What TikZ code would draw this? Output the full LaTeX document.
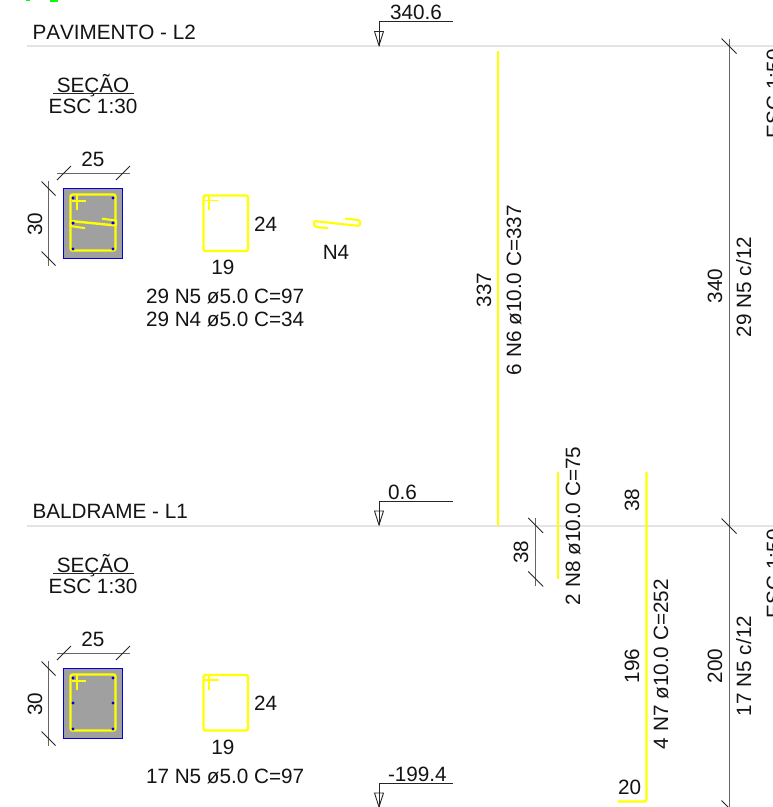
\documentclass[tikz,border=0pt]{standalone}
\usepackage{fontspec}
\setmainfont[Kerning=Off]{Liberation Sans}
\definecolor{steelY}{RGB}{255,255,0}
\definecolor{levelG}{RGB}{228,228,228}
\definecolor{concG}{RGB}{160,160,160}
\tikzset{
  txt/.style={inner sep=0pt,outer sep=0pt,text=black!92,font=\fontsize{20.7}{25}\selectfont},
  lbl/.style={txt,anchor=base west},
  ctr/.style={txt,anchor=base},
  vlbl/.style={txt,anchor=base west,rotate=90},
  vctr/.style={txt,anchor=base,rotate=90},
  level/.style={draw=levelG,line width=1.2pt},
  dimline/.style={draw=black!60,line width=1pt},
  tick/.style={draw=black!85,line width=0.8pt},
  elev/.style={draw=black!85,line width=0.9pt},
  rebar/.style={draw=steelY,line width=2.3pt,line join=round},
  stirrup/.style={draw=steelY,line width=2.4pt,rounded corners=2pt,line join=round},
  conc/.style={draw=blue!85!black,fill=concG,line width=1.1pt},
  bardot/.style={fill=blue!85!black,draw=none},
  underl/.style={draw=black!85,line width=0.9pt},
  pics/vtick/.style={code={\draw[tick] (-7.5,-7.5) -- (7.5,7.5);}},
  pics/elevmark/.style={code={
    \draw[elev] (0,0) -- (74,0);
    \draw[elev] (0,0) -- (0,24);
    \draw[elev] (-4.5,10) -- (4.5,10) -- (0,24) -- cycle;}},
  pics/sectionbox/.style={code={
    \node[ctr] (sec) at (93,92) {SEÇÃO};
    \draw[underl] (53,93) -- (134,93);
    \node[ctr] (esc) at (93,113) {ESC 1:30};
    \node[ctr] (w) at (93,166) {25};
    \node[vctr] (h) at (42,224) {30};
    \draw[dimline] (57,173) -- (130,173);
    \draw[dimline] (48.5,181) -- (48.5,266);
    \draw[tick] (57,180) -- (71,166);
    \draw[tick] (116,180) -- (130,166);
    \draw[tick] (41.5,181.5) -- (55.5,195.5);
    \draw[tick] (41.5,251.5) -- (55.5,265.5);
    \draw[conc] (63.5,188.5) rectangle (122.5,258.5);
    \draw[stirrup] (70.5,194.5) rectangle (115.5,250.5);
    \draw[rebar,line width=2pt] (72,201) -- (86,201);
    \draw[rebar,line width=2pt] (77,195) -- (77,210);
    \foreach \px/\py in {73/198,113/198,73/223,113/223,73/249,113/249}
      \fill[bardot] (\px,\py) circle (1.7);
  }},
  pics/stirrupshape/.style={code={
    \draw[stirrup] (203.5,195.5) rectangle (248,251);
    \draw[rebar,line width=1.5pt] (204,200.7) -- (219,200.7);
    \draw[rebar,line width=1.5pt] (209,196) -- (209,210);
    \node[lbl] (dimA) at (254,231) {24};
    \node[ctr] (dimB) at (223,274.5) {19};
  }},
}
\begin{document}
\begin{tikzpicture}[x=1pt,y=-1pt]
\useasboundingbox (0,0) rectangle (773,807);
\clip (0,0) rectangle (773,807);
\fill[white] (0,0) rectangle (773,807);

% clipped green marks along the top edge
\fill[green] (26,0) rectangle (30,1);
\fill[green] (50,0) rectangle (58,1.5);

% levels
\draw[level] (27,46) -- (773,46);
\draw[level] (27,526) -- (773,526);
\node[lbl] (l2) at (32.5,39) {PAVIMENTO - L2};
\node[lbl] (l1) at (32.5,518) {BALDRAME - L1};

% elevation marks
\pic at (379,21.5) {elevmark};
\node[ctr] (e1) at (416,19) {340.6};
\pic at (379,501) {elevmark};
\node[lbl] (e2) at (388,499) {0.6};
\pic at (379,783) {elevmark};
\node[lbl] (e3) at (388,781) {-199.4};

% sections
\pic at (0,0) {sectionbox};
\pic at (0,480) {sectionbox};
% N4 crossing hook in upper section
\draw[rebar,line width=2.4pt] (70.5,221) -- (116,225.5);
\draw[rebar,line width=2pt] (70.5,221) -- (70.5,226) -- (85,228.2);
\draw[rebar,line width=2pt] (116,225.5) -- (116,220.5) -- (102,218.7);
\foreach \px/\py in {73/223,113/223} \fill[bardot] (\px,\py) circle (1.7);

% bar shapes
\pic at (0,0) {stirrupshape};
\pic at (0,479.5) {stirrupshape};
\draw[rebar,line width=2.1pt,rounded corners=1.5pt] (328,228.3) -- (314.5,226.7) -- (313.5,221) -- (360,226) -- (360,220.3) -- (345,218.5);
\node[ctr] (n4) at (336,259) {N4};
\node[lbl] (t1) at (146,303) {29 N5 ø5.0 C=97};
\node[lbl] (t2) at (146,326) {29 N4 ø5.0 C=34};
\node[lbl] (t3) at (146,783) {17 N5 ø5.0 C=97};

% N6
\draw[rebar] (498,51) -- (498,526);
\node[vctr] (d337) at (491,290) {337};
\node[vlbl] (n6) at (521,375) {6 N6 ø10.0 C=337};

% N8
\draw[rebar] (557.7,472) -- (557.7,579);
\node[vlbl] (n8) at (580,605) {2 N8 ø10.0 C=75};
\draw[dimline,line width=0.9pt] (535.7,518) -- (535.7,586);
\draw[tick] (528.2,518) -- (543.2,533);
\draw[tick] (528.2,571.5) -- (543.2,586.5);
\node[vctr] (d38a) at (528,552) {38};

% N7
\draw[rebar,rounded corners=2pt] (646.5,472) -- (646.5,801.5) -- (617.5,801.5);
\node[vctr] (d38b) at (639,500) {38};
\node[vctr] (d196) at (639,666) {196};
\node[vlbl] (n7) at (668,749) {4 N7 ø10.0 C=252};
\node[lbl] (d20) at (618,794) {20};

% right dimension
\draw[dimline,line width=0.9pt] (729,39) -- (729,807);
\pic at (729,46) {vtick};
\pic at (729,526) {vtick};
\pic at (729,808) {vtick};
\node[vctr] (d340) at (722,286) {340};
\node[vlbl] (c29) at (751,337) {29 N5 c/12};
\node[vctr] (d200) at (722,666) {200};
\node[vlbl] (c17) at (751,716) {17 N5 c/12};
\node[vlbl] (s1) at (781,138) {ESC 1:50};
\node[vlbl] (s2) at (781,618) {ESC 1:50};
\end{tikzpicture}
\end{document}
